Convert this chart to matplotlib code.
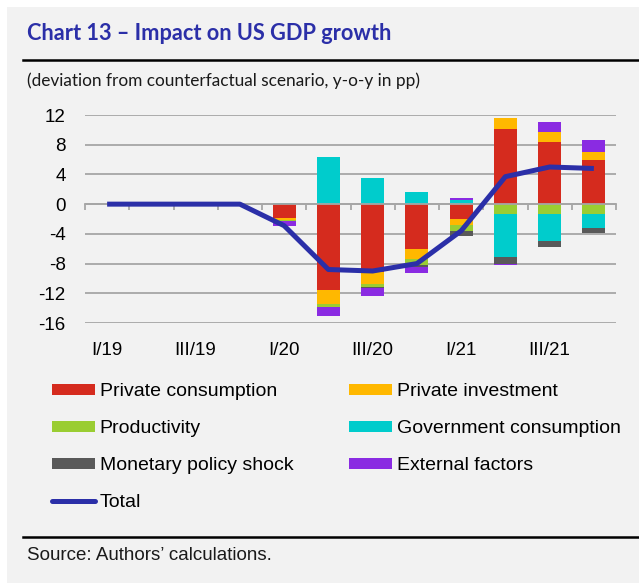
import matplotlib.pyplot as plt
import numpy as np
from matplotlib.patches import Patch, Rectangle
from matplotlib.lines import Line2D

quarters = ['I/19', 'II/19', 'III/19', 'IV/19', 'I/20', 'II/20', 'III/20', 'IV/20',
            'I/21', 'II/21', 'III/21', 'IV/21']
private_consumption = [0, 0, 0, 0, -1.9, -11.5, -9.1, -6.1, -2.0, 10.1, 8.3, 5.9]
private_investment = [0, 0, 0, 0, -0.2, -2.0, -1.6, -1.35, -0.77, 1.5, 1.4, 1.1]
productivity = [0, 0, 0, 0, -0.2, -0.4, -0.45, -0.77, -0.86, -1.26, -1.26, -1.26]
government_consumption = [0, 0, 0, 0, 0.2, 6.4, 3.5, 1.6, 0.54, -5.9, -3.74, -1.98]
monetary_policy = [0, 0, 0, 0, 0, 0, -0.2, -0.2, -0.63, -0.86, -0.81, -0.63]
external_factors = [0, 0, 0, 0, -0.6, -1.1, -1.04, -0.9, 0.23, -0.23, 1.3, 1.6]
total = [0, 0, 0, 0, -2.9, -8.8, -9.0, -8.0, -3.6, 3.7, 5.0, 4.8]

series = [
    ('Private consumption', private_consumption, '#D52B1E'),
    ('Private investment', private_investment, '#FFB800'),
    ('Productivity', productivity, '#9ACD32'),
    ('Government consumption', government_consumption, '#00CCCC'),
    ('Monetary policy shock', monetary_policy, '#595959'),
    ('External factors', external_factors, '#8A2BE2'),
]
line_color = '#2B2FA8'

plt.rcParams['font.family'] = ['Liberation Sans', 'DejaVu Sans']

fig = plt.figure(figsize=(6.39, 5.83), dpi=100)
fig.patch.set_facecolor('white')
fig.patches.append(Rectangle((7 / 639, 0), 1, 1 - 7 / 583, transform=fig.transFigure,
                             facecolor='#F2F2F2', edgecolor='none', zorder=-10))

ax = fig.add_axes([85 / 639, 1 - 323 / 583, 531 / 639, 208 / 583])
ax.set_facecolor('none')

x = np.arange(len(quarters))
pos_bottom = np.zeros(len(x))
neg_bottom = np.zeros(len(x))
for name, vals, col in series:
    v = np.array(vals, dtype=float)
    pos = np.where(v > 0, v, 0)
    neg = np.where(v < 0, v, 0)
    ax.bar(x, pos, 0.52, bottom=pos_bottom, color=col, linewidth=0, zorder=2)
    ax.bar(x, neg, 0.52, bottom=neg_bottom, color=col, linewidth=0, zorder=2)
    pos_bottom += pos
    neg_bottom += neg

ax.plot(x, total, color=line_color, lw=3.6, zorder=4, solid_capstyle='butt')

ax.set_xlim(-0.5, 11.5)
ax.set_ylim(-16, 12)
yt = list(range(-16, 13, 4))
ax.set_yticks(yt)
ax.set_yticklabels([str(v) for v in yt], fontsize=13.5)
ax.tick_params(axis='y', length=0, pad=14)
ax.yaxis.grid(True, color='#A6A6A6', lw=1.3, zorder=0)
ax.set_axisbelow(True)

for s in ['left', 'right', 'top']:
    ax.spines[s].set_visible(False)
ax.spines['bottom'].set_position(('data', 0))
ax.spines['bottom'].set_color('#A6A6A6')
ax.spines['bottom'].set_linewidth(1.3)
ax.set_xticks(np.arange(-0.5, 12, 1))
ax.set_xticklabels([])
ax.tick_params(axis='x', direction='out', length=4, width=1.3, color='#A6A6A6')

sec = ax.secondary_xaxis('bottom')
sec.set_xticks(x[::2])
sec.set_xticklabels(quarters[::2], fontsize=13.5)
sec.tick_params(length=0, pad=14)
sec.spines['bottom'].set_visible(False)

# header / footer
fig.text(27 / 639, 1 - 33 / 583, 'Chart 13 – Impact on US GDP growth', family='Lato',
         weight='bold', fontsize=15.7, color=line_color, va='center')
fig.add_artist(Line2D([23 / 639, 1], [1 - 60 / 583] * 2, color='black', lw=1.8))
fig.text(27 / 639, 1 - 81 / 583, '(deviation from counterfactual scenario, y-o-y in pp)',
         family='Lato', fontsize=12.4, color='#1a1a1a', va='center')
fig.add_artist(Line2D([23 / 639, 1], [1 - 537 / 583] * 2, color='black', lw=1.8))
fig.text(27 / 639, 1 - 556 / 583, 'Source: Authors’ calculations.', fontsize=13.5,
         color='#1a1a1a', va='center')

# legend in two columns
def handle(name, col):
    return Patch(facecolor=col, edgecolor='none', label=name)

h = {name: handle(name, col) for name, vals, col in series}
left_col = [h['Private consumption'], h['Productivity'], h['Monetary policy shock'],
            Line2D([], [], color=line_color, lw=3.6, solid_capstyle='round', label='Total')]
right_col = [h['Private investment'], h['Government consumption'], h['External factors']]
for handles, xpos in [(left_col, 52 / 639), (right_col, 349 / 639)]:
    fig.legend(handles=handles, loc='upper left', bbox_to_anchor=(xpos, 1 - 383 / 583),
               frameon=False, fontsize=14, borderpad=0, borderaxespad=0,
               handlelength=2.2, handleheight=0.5, handletextpad=0.25,
               labelspacing=1.03)

fig.savefig('out.png', dpi=100)
